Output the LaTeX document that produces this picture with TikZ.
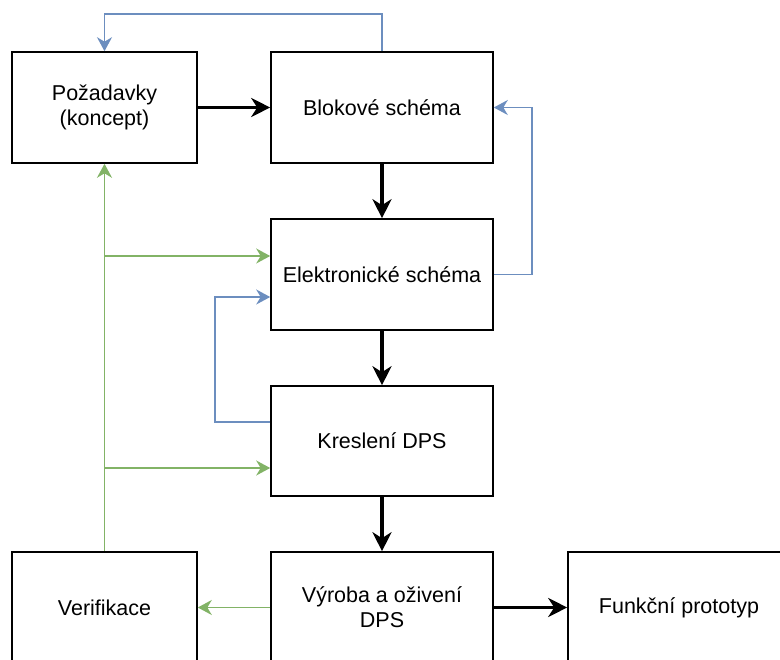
\documentclass[tikz,border=0pt]{standalone}
\usepackage{fontspec}
\setmainfont{Liberation Sans}
\usetikzlibrary{arrows.meta}
\definecolor{fbblue}{HTML}{6C8EBF}
\definecolor{fbgreen}{HTML}{82B366}
\begin{document}
\begin{tikzpicture}[x=1pt,y=-1pt,
  box/.style={draw=black,line width=1.6pt,fill=white,rectangle,inner sep=0pt,
    minimum height=111pt,align=center,font=\fontsize{21.5}{25}\selectfont},
  main/.style={draw=black,line width=3.2pt,-{Stealth[length=19pt,width=19pt,inset=6pt]}},
  fbb/.style={draw=fbblue,line width=1.8pt,-{Stealth[length=14pt,width=15pt,inset=4.5pt]}},
  fbg/.style={draw=fbgreen,line width=1.8pt,-{Stealth[length=14pt,width=15pt,inset=4.5pt]}}]
\useasboundingbox (0,0) rectangle (780,660);
\clip (0,0) rectangle (780,660);
\node[box,minimum width=185pt] (poz) at (104.5,107.5) {Požadavky\\(koncept)};
\node[box,minimum width=222pt] (bl) at (382,107.5) {Blokové schéma};
\node[box,minimum width=222pt] (el) at (382,274.5) {Elektronické schéma};
\node[box,minimum width=222pt,minimum height=110pt] (kr) at (382,441) {Kreslení DPS};
\node[box,minimum width=222pt] (vy) at (382,607.5) {Výroba a oživení\\DPS};
\node[box,minimum width=185pt] (ver) at (104.5,607.5) {Verifikace};
\node[box,minimum width=222pt] (fu) at (679,607.5) {Funkční prototyp};
\coordinate (top) at (0,14);
% main flow
\draw[main] (poz.east) -- (bl.west);
\draw[main] (bl.south) -- (el.north);
\draw[main] (el.south) -- (kr.north);
\draw[main] (kr.south) -- (vy.north);
\draw[main] (vy.east) -- (fu.west);
% blue feedback
\draw[fbb] (bl.north) -- (bl.north |- top) -| (poz.north);
\draw[fbb] (el.east) -- ++(38,0) |- (bl.east);
\coordinate (kb) at ([yshift=19pt]kr.west);
\coordinate (eb) at ([yshift=-22.5pt]el.west);
\draw[fbb] (kb) -- ++(-55,0) |- (eb);
% green verification
\draw[fbg] (vy.west) -- (ver.east);
\draw[fbg] (ver.north) -- (poz.south);
\coordinate (eg) at ([yshift=18.5pt]el.west);
\coordinate (kg) at ([yshift=-27pt]kr.west);
\draw[fbg] (eg -| ver.north) -- (eg);
\draw[fbg] (kg -| ver.north) -- (kg);
\end{tikzpicture}
\end{document}
